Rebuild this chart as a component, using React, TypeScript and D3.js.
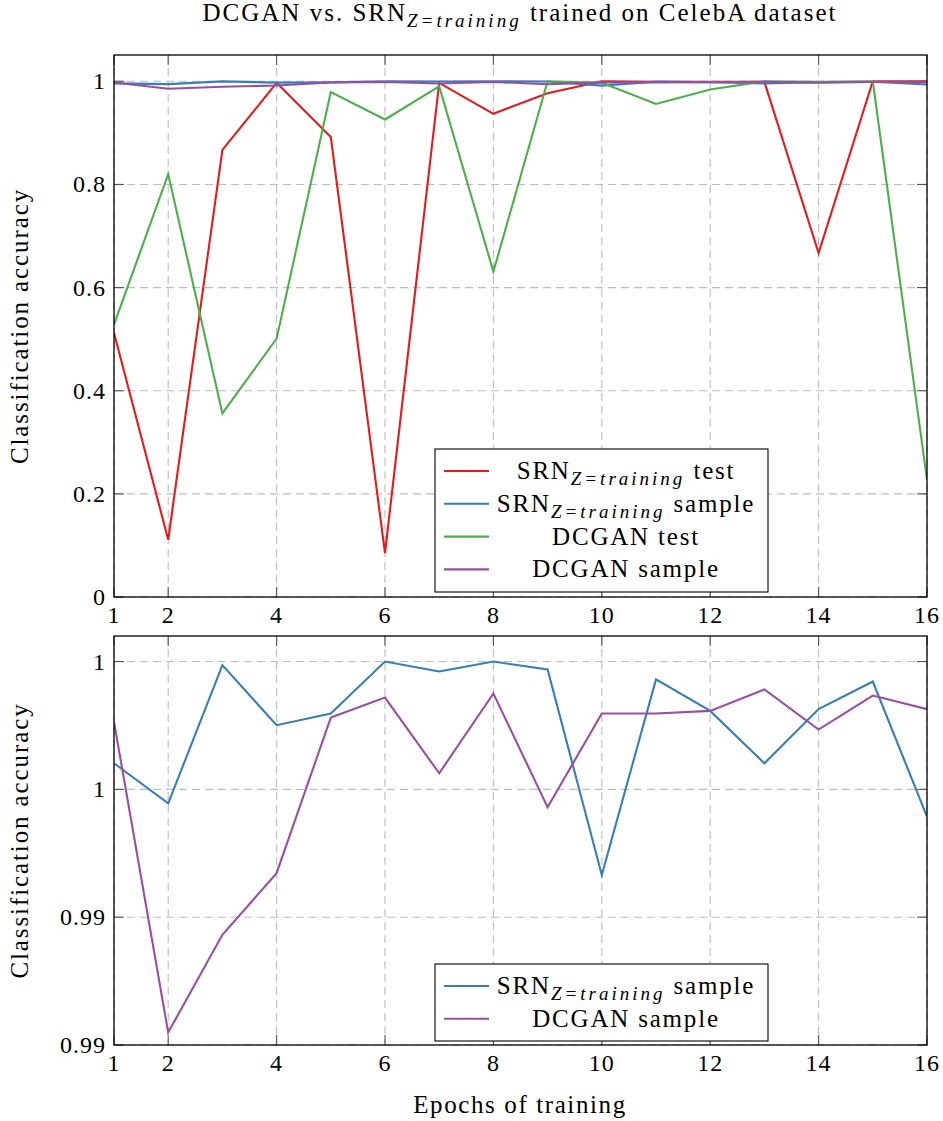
import React from 'react';
import * as d3 from 'd3';

const epochs = [1, 2, 3, 4, 5, 6, 7, 8, 9, 10, 11, 12, 13, 14, 15, 16];

const srnTest = [0.512, 0.111, 0.867, 0.997, 0.892, 0.085, 0.997, 0.937, 0.977, 1.0, 0.999, 0.999, 0.999, 0.667, 1.0, 1.0];
const srnSample = [0.99602, 0.99445, 0.99986, 0.99751, 0.99797, 1.0, 0.99961, 1.0, 0.99969, 0.99165, 0.9993, 0.99807, 0.99602, 0.99814, 0.99922, 0.99393];
const dcganTest = [0.528, 0.82, 0.356, 0.501, 0.979, 0.926, 0.99, 0.631, 1.0, 0.997, 0.956, 0.984, 1.0, 0.999, 1.0, 0.227];
const dcganSample = [0.99764, 0.98549, 0.98931, 0.99172, 0.99781, 0.99859, 0.99563, 0.99875, 0.9943, 0.99797, 0.99797, 0.99807, 0.99891, 0.99734, 0.99867, 0.99814];

const xTicks = [1, 2, 4, 6, 8, 10, 12, 14, 16];
const yTicksTop = [0, 0.2, 0.4, 0.6, 0.8, 1];
const yTickLabelsTop = ['0', '0.2', '0.4', '0.6', '0.8', '1'];
const yTicksBottom = [0.985, 0.99, 0.995, 1.0];
const yTickLabelsBottom = ['0.99', '0.99', '1', '1'];

const topSeries = [
  { name: 'SRN', sub: 'Z=training', suffix: ' test', values: srnTest, color: '#e41a1c' },
  { name: 'SRN', sub: 'Z=training', suffix: ' sample', values: srnSample, color: '#377eb8' },
  { name: 'DCGAN test', sub: '', suffix: '', values: dcganTest, color: '#4daf4a' },
  { name: 'DCGAN sample', sub: '', suffix: '', values: dcganSample, color: '#984ea3' },
];
const bottomSeries = [topSeries[1], topSeries[3]];

const FONT = "'Liberation Serif', 'DejaVu Serif', 'Times New Roman', serif";
const left = 114;
const right = 927;

const x = d3.scaleLinear().domain([1, 16]).range([left, right]);

// subscript in the CM-ish math italic look: wider spacing
const Sub = ({ children }) => (
  <tspan fontSize={19} fontStyle="italic" dy={6} letterSpacing={3}>
    {children}
  </tspan>
);

const Label = ({ s, cx, y }) => (
  <text
    x={cx}
    y={y}
    textAnchor="middle"
    fontSize={25}
    letterSpacing={1.8}
    style={{ whiteSpace: 'pre', fontFamily: FONT }}
  >
    {s.name}
    {s.sub && <Sub>{s.sub}</Sub>}
    {s.suffix && <tspan dy={s.sub ? -6 : 0}>{s.suffix}</tspan>}
  </text>
);

const Panel = ({ id, top, bottom, domain, ticks, tickLabels, series, legend }) => {
  const y = d3.scaleLinear().domain(domain).range([bottom, top]);
  const line = d3
    .line()
    .x((d, i) => x(epochs[i]))
    .y((d) => y(d));
  const tick = 10;
  return (
    <g>
      <defs>
        <clipPath id={id}>
          <rect x={left} y={top} width={right - left} height={bottom - top} />
        </clipPath>
      </defs>
      {/* grid */}
      <g stroke="#bdbdbd" strokeWidth={1.1} strokeDasharray="8,5">
        {xTicks.map((t) => (
          <line key={'gx' + t} x1={x(t)} x2={x(t)} y1={top} y2={bottom} />
        ))}
        {ticks.map((t) => (
          <line key={'gy' + t} x1={left} x2={right} y1={y(t)} y2={y(t)} />
        ))}
      </g>
      {/* inner ticks */}
      <g stroke="#555" strokeWidth={1.1}>
        {xTicks.map((t) => (
          <g key={'tx' + t}>
            <line x1={x(t)} x2={x(t)} y1={bottom} y2={bottom - tick} />
            <line x1={x(t)} x2={x(t)} y1={top} y2={top + tick} />
          </g>
        ))}
        {ticks.map((t) => (
          <g key={'ty' + t}>
            <line x1={left} x2={left + tick} y1={y(t)} y2={y(t)} />
            <line x1={right} x2={right - tick} y1={y(t)} y2={y(t)} />
          </g>
        ))}
      </g>
      <g clipPath={`url(#${id})`}>
        {series.map((s, i) => (
          <path key={i} d={line(s.values)} fill="none" stroke={s.color} strokeWidth={2.1} strokeLinejoin="miter" />
        ))}
      </g>
      <rect x={left} y={top} width={right - left} height={bottom - top} fill="none" stroke="#000" strokeWidth={1.3} />
      {/* tick labels */}
      <g fontSize={24} fill="#000" letterSpacing={1} style={{ fontFamily: FONT }}>
        {ticks.map((t, i) => (
          <text key={'ly' + t} x={left - 8} y={y(t) + 8} textAnchor="end">
            {tickLabels[i]}
          </text>
        ))}
        {xTicks.map((t) => (
          <text key={'lx' + t} x={x(t)} y={bottom + 26} textAnchor="middle">
            {t}
          </text>
        ))}
      </g>
      <text
        transform={`translate(28, ${(top + bottom) / 2}) rotate(-90)`}
        textAnchor="middle"
        fontSize={25}
        letterSpacing={1.9}
        style={{ fontFamily: FONT }}
      >
        Classification accuracy
      </text>
      {/* legend */}
      <rect
        x={legend.x}
        y={legend.y}
        width={legend.w}
        height={legend.h}
        fill="#fff"
        stroke="#000"
        strokeWidth={1.1}
      />
      {series.map((s, i) => {
        const ly = legend.y + 22 + i * 32.8;
        return (
          <g key={'lg' + i}>
            <line x1={legend.x + 9} x2={legend.x + 54} y1={ly} y2={ly} stroke={s.color} strokeWidth={2.1} />
            <Label s={s} cx={626} y={ly + 8} />
          </g>
        );
      })}
    </g>
  );
};

export default function App() {
  return (
    <svg
      width={943}
      height={1121}
      style={{ position: 'absolute', left: 0, top: 0, background: '#fff', fontFamily: FONT }}
    >
      <rect width={943} height={1121} fill="#fff" />
      <text
        x={520}
        y={21}
        textAnchor="middle"
        fontSize={25}
        letterSpacing={2}
        style={{ whiteSpace: 'pre', fontFamily: FONT }}
      >
        DCGAN vs. SRN
        <Sub>Z=training</Sub>
        <tspan dy={-6}> trained on CelebA dataset</tspan>
      </text>
      <Panel
        id="clipTop"
        top={55}
        bottom={597}
        domain={[0, 1.051]}
        ticks={yTicksTop}
        tickLabels={yTickLabelsTop}
        series={topSeries}
        legend={{ x: 435, y: 449, w: 333, h: 143 }}
      />
      <Panel
        id="clipBottom"
        top={636}
        bottom={1045}
        domain={[0.985, 1.001]}
        ticks={yTicksBottom}
        tickLabels={yTickLabelsBottom}
        series={bottomSeries}
        legend={{ x: 435, y: 964, w: 333, h: 77 }}
      />
      <text x={520} y={1113} textAnchor="middle" fontSize={25} letterSpacing={1.6} style={{ fontFamily: FONT }}>
        Epochs of training
      </text>
    </svg>
  );
}
